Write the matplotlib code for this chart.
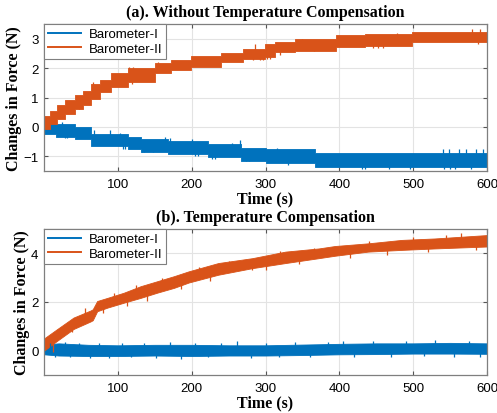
import matplotlib.pyplot as plt

BLUE = "#0072BD"
ORANGE = "#D95319"

# (a) without temperature compensation: the readings sit on a few quantised
# levels, so each trace is a band of steps (lower/upper level from each time on)
t_a1 = [0, 16, 42, 64, 114, 132, 168, 222, 267, 301, 367, 600]
lo_a1 = [-0.24, -0.35, -0.41, -0.64, -0.75, -0.87, -0.92, -1.04, -1.15, -1.24, -1.36, -1.36]
hi_a1 = [0.16, 0.10, -0.01, -0.24, -0.35, -0.41, -0.47, -0.58, -0.70, -0.75, -0.88, -0.88]

t_a2 = [0, 8, 17, 28, 42, 53, 64, 76, 91, 114, 150, 172, 199, 240, 270, 299, 313, 340,
        396, 435, 498, 600]
lo_a2 = [-0.06, 0.10, 0.27, 0.44, 0.61, 0.73, 0.96, 1.19, 1.36, 1.53, 1.82, 1.93, 2.05,
         2.20, 2.30, 2.38, 2.55, 2.60, 2.72, 2.77, 2.89, 2.89]
hi_a2 = [0.38, 0.55, 0.73, 0.90, 1.07, 1.21, 1.47, 1.59, 1.82, 1.99, 2.16, 2.28, 2.40,
         2.52, 2.65, 2.83, 2.89, 3.00, 3.12, 3.17, 3.23, 3.23]

# single readings that jump outside the band: (time, from, to)
spk_a1 = [(25, -0.1, 0.16), (28, -0.1, -0.39), (31, -0.1, -0.39), (68, -0.4, -0.09),
          (90, -0.4, -0.09), (103, -0.4, -0.20), (107, -0.5, -0.75), (110, -0.5, -0.75),
          (133, -0.6, -0.87), (136, -0.6, -0.87), (147, -0.6, -0.87), (164, -0.6, -0.35),
          (170, -0.7, -0.37), (201, -0.7, -0.41), (204, -0.7, -0.98), (208, -0.7, -0.98),
          (228, -0.8, -1.09), (231, -0.8, -1.09), (255, -0.8, -0.53), (265, -0.8, -0.44),
          (274, -0.9, -1.15), (278, -0.9, -1.15), (315, -1.0, -0.70), (330, -1.0, -1.30),
          (431, -1.1, -1.43), (435, -1.1, -1.43), (467, -1.1, -1.43), (495, -1.1, -1.43),
          (542, -1.1, -1.43), (550, -1.1, -1.43), (557, -1.1, -1.43), (578, -1.1, -1.43),
          (540, -1.1, -0.75), (548, -1.1, -0.75), (562, -1.1, -0.75), (572, -1.1, -0.75),
          (585, -1.1, -0.75), (595, -1.1, -0.75)]
spk_a2 = [(47, 0.8, 0.61), (66, 1.2, 1.52), (115, 1.7, 2.04), (119, 1.7, 1.47),
          (120, 1.7, 2.04), (154, 2.0, 2.20), (192, 2.2, 2.04), (197, 2.2, 2.04),
          (283, 2.5, 2.26), (286, 2.5, 2.83), (292, 2.5, 2.26), (297, 2.5, 2.26),
          (302, 2.6, 2.32), (306, 2.6, 2.32), (320, 2.7, 2.45), (350, 2.8, 3.00),
          (365, 2.8, 2.60), (400, 2.9, 3.10), (412, 2.9, 3.10), (425, 2.9, 3.10),
          (445, 3.0, 2.70), (452, 3.0, 2.70), (459, 3.0, 2.70), (478, 3.0, 3.20),
          (580, 3.0, 3.34), (588, 3.0, 2.83), (590, 3.0, 3.34)]

# (b) with temperature compensation: lower/upper edge of each noisy trace
t_b1 = [0, 20, 60, 100, 150, 200, 250, 300, 350, 400, 450, 500, 550, 600]
lo_b1 = [-0.15, -0.20, -0.22, -0.22, -0.20, -0.22, -0.20, -0.20, -0.18, -0.15, -0.14,
         -0.12, -0.12, -0.13]
hi_b1 = [0.25, 0.30, 0.24, 0.22, 0.24, 0.24, 0.22, 0.22, 0.25, 0.28, 0.30, 0.30, 0.32, 0.30]

t_b2 = [0, 18, 40, 63, 66, 72, 86, 108, 131, 153, 176, 196, 236, 282, 327, 372, 394,
        439, 484, 529, 600]
lo_b2 = [0.00, 0.41, 0.89, 1.20, 1.25, 1.62, 1.77, 1.97, 2.17, 2.38, 2.58, 2.80, 3.12,
         3.39, 3.60, 3.80, 3.90, 4.07, 4.14, 4.20, 4.28]
hi_b2 = [0.50, 0.89, 1.36, 1.65, 1.70, 2.04, 2.17, 2.38, 2.65, 2.85, 3.06, 3.26, 3.60,
         3.80, 4.07, 4.20, 4.30, 4.41, 4.55, 4.61, 4.75]

spk_b1 = [(8, 0.0, 0.32), (15, 0.0, -0.25), (28, 0.0, 0.36), (35, 0.0, -0.28),
          (48, 0.0, 0.33), (62, 0.0, -0.30), (75, 0.0, 0.30), (88, 0.0, -0.32),
          (105, 0.0, 0.30), (118, 0.0, -0.27), (135, 0.0, 0.33), (152, 0.0, -0.30),
          (170, 0.0, 0.34), (185, 0.0, -0.33), (205, 0.0, 0.30), (222, 0.0, -0.28),
          (240, 0.0, 0.31), (262, 0.0, 0.38), (280, 0.0, -0.30), (300, 0.0, 0.32),
          (318, 0.0, -0.26), (340, 0.0, 0.34), (360, 0.0, -0.28), (385, 0.0, 0.36),
          (405, 0.0, 0.38), (420, 0.0, -0.26), (445, 0.0, 0.40), (470, 0.0, -0.28),
          (490, 0.0, 0.38), (515, 0.0, -0.24), (530, 0.0, 0.42), (555, 0.0, -0.28),
          (575, 0.0, 0.40), (590, 0.0, -0.26)]
spk_b2 = [(12, 0.3, -0.05), (25, 0.7, 0.95), (38, 1.0, 0.75), (55, 1.4, 1.75),
          (80, 1.9, 1.55), (95, 2.1, 2.35), (112, 2.1, 1.85), (125, 2.4, 2.70),
          (140, 2.4, 2.05), (160, 2.7, 3.00), (185, 2.8, 2.55), (210, 3.2, 3.45),
          (225, 3.2, 2.85), (250, 3.5, 3.70), (282, 3.6, 3.30), (300, 3.7, 3.30),
          (320, 3.8, 4.10), (345, 3.8, 3.55), (365, 4.0, 4.20), (398, 4.1, 4.22),
          (415, 4.1, 3.80), (440, 4.2, 4.50), (465, 4.2, 3.95), (500, 4.4, 4.68),
          (520, 4.4, 4.05), (545, 4.4, 4.75), (565, 4.5, 4.82), (585, 4.5, 4.15)]

labels = ["Barometer-I", "Barometer-II"]
xticks = [100, 200, 300, 400, 500, 600]

plt.rcParams["font.family"] = "Liberation Sans"

fig = plt.figure(figsize=(4.97, 4.14), dpi=100)
ax1 = fig.add_axes([0.0885, 0.5845, 0.8915, 0.355])
ax2 = fig.add_axes([0.0885, 0.0918, 0.8915, 0.3527])

serif = dict(family="Liberation Serif", weight="bold", fontsize=11.5)


def draw_trace(ax, t, lo, hi, spikes, color, step=None):
    ax.fill_between(t, lo, hi, step=step, color=color, lw=0.6, edgecolor=color)
    ax.vlines([s[0] for s in spikes], [s[1] for s in spikes], [s[2] for s in spikes],
              color=color, lw=0.9)


def style(ax, yticks, ylim, title):
    ax.set_xlim(0, 600)
    ax.set_ylim(*ylim)
    ax.set_xticks(xticks)
    ax.set_yticks(yticks)
    ax.grid(True, color="#e3e3e3", lw=0.8)
    ax.set_axisbelow(True)
    ax.tick_params(direction="in", top=True, right=True, length=3, color="#555555",
                   labelsize=9.5)
    ax.tick_params(axis="x", pad=5)
    ax.tick_params(axis="y", pad=4)
    for s in ax.spines.values():
        s.set_color("#7f7f7f")
        s.set_linewidth(0.9)
    ax.set_title(title, pad=6, **serif)
    ax.set_xlabel("Time (s)", labelpad=0, **serif)
    ax.set_ylabel("Changes in Force (N)", labelpad=1, **serif)
    handles = [plt.Line2D([], [], color=BLUE, lw=1.4), plt.Line2D([], [], color=ORANGE, lw=1.4)]
    leg = ax.legend(handles, labels, loc="upper left", borderaxespad=0, fancybox=False,
                    framealpha=1, edgecolor="#7f7f7f", fontsize=9.5, handlelength=2.5,
                    borderpad=0.3, labelspacing=0.2, handletextpad=0.6)
    leg.get_frame().set_linewidth(0.8)


draw_trace(ax1, t_a1, lo_a1, hi_a1, spk_a1, BLUE, step="post")
draw_trace(ax1, t_a2, lo_a2, hi_a2, spk_a2, ORANGE, step="post")
style(ax1, [-1, 0, 1, 2, 3], (-1.5, 3.5), "(a). Without Temperature Compensation")

draw_trace(ax2, t_b1, lo_b1, hi_b1, spk_b1, BLUE)
draw_trace(ax2, t_b2, lo_b2, hi_b2, spk_b2, ORANGE)
style(ax2, [0, 2, 4], (-1, 5), "(b). Temperature Compensation")

fig.savefig("out.png", dpi=100)
